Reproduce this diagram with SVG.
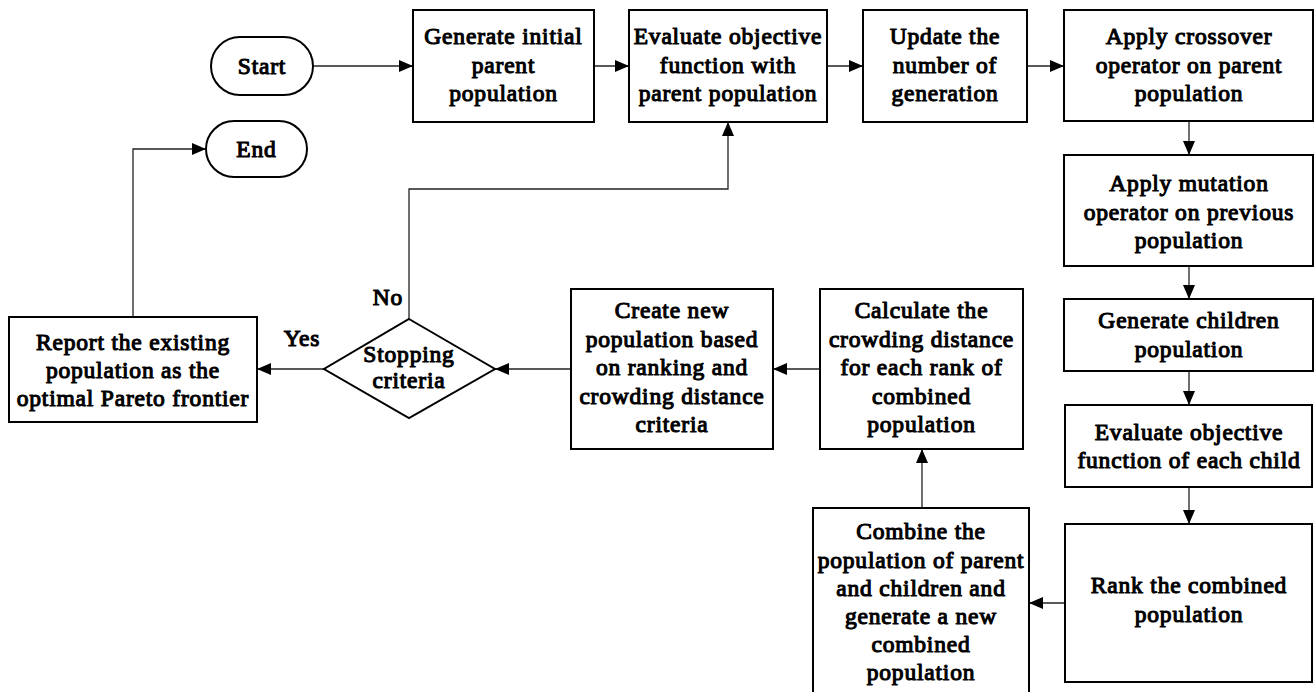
<svg xmlns="http://www.w3.org/2000/svg" width="1314" height="692" viewBox="0 0 1314 692">
<defs>
<marker id="ah" markerUnits="userSpaceOnUse" markerWidth="14" markerHeight="12" refX="14" refY="6" orient="auto">
<path d="M0,0 L14,6 L0,12 z" fill="#000"/>
</marker>
<style>
.box{fill:#fff;stroke:#000;stroke-width:2}
.t{font-family:"Liberation Serif","Times New Roman",serif;font-weight:normal;font-size:23.5px;letter-spacing:0.8px;text-anchor:middle;fill:#000;stroke:#000;stroke-width:1.1;stroke-linejoin:round}
.c{fill:none;stroke:#222;stroke-width:1.3;marker-end:url(#ah)}
</style>
</defs>
<rect width="1314" height="692" fill="#fff"/>
<g id="connectors">
<path class="c" d="M313,66 H413"/>
<path class="c" d="M594,66 H629"/>
<path class="c" d="M827,66 H863"/>
<path class="c" d="M1027,66 H1064"/>
<path class="c" d="M1189,121 V155"/>
<path class="c" d="M1189,266 V299"/>
<path class="c" d="M1189,371 V405"/>
<path class="c" d="M1189,487 V524"/>
<path class="c" d="M1065,603 H1029"/>
<path class="c" d="M922,508 V449"/>
<path class="c" d="M820,369 H773"/>
<path class="c" d="M571,369 H495"/>
<path class="c" d="M324,369 H257"/>
<path class="c" d="M409,319 V189 H728 V122"/>
<path class="c" d="M133,317 V149 H206"/>
<text class="t" x="302" y="346">Yes</text>
<text class="t" x="388" y="305">No</text>
</g>
<g id="start">
<rect class="box" x="211" y="37" width="102" height="58" rx="29"/>
<text class="t" x="262" y="74">Start</text>
</g>
<g id="end">
<rect class="box" x="206" y="121" width="101" height="56" rx="28"/>
<text class="t" x="256.5" y="157">End</text>
</g>
<g id="gen-initial">
<rect class="box" x="413" y="10" width="181" height="112"/>
<text class="t" x="503.5" y="44">Generate initial</text>
<text class="t" x="503.5" y="72.5">parent</text>
<text class="t" x="503.5" y="101">population</text>
</g>
<g id="eval-parent">
<rect class="box" x="629" y="10" width="198" height="112"/>
<text class="t" x="728" y="44">Evaluate objective</text>
<text class="t" x="728" y="72.5">function with</text>
<text class="t" x="728" y="101">parent population</text>
</g>
<g id="update">
<rect class="box" x="863" y="10" width="164" height="112"/>
<text class="t" x="945" y="44">Update the</text>
<text class="t" x="945" y="72.5">number of</text>
<text class="t" x="945" y="101">generation</text>
</g>
<g id="crossover">
<rect class="box" x="1064" y="10" width="249" height="111"/>
<text class="t" x="1189" y="44">Apply crossover</text>
<text class="t" x="1189" y="72.5">operator on parent</text>
<text class="t" x="1189" y="101">population</text>
</g>
<g id="mutation">
<rect class="box" x="1064" y="155" width="249" height="111"/>
<text class="t" x="1189" y="191">Apply mutation</text>
<text class="t" x="1189" y="219.5">operator on previous</text>
<text class="t" x="1189" y="248">population</text>
</g>
<g id="children">
<rect class="box" x="1064" y="299" width="249" height="72"/>
<text class="t" x="1189" y="328">Generate children</text>
<text class="t" x="1189" y="357">population</text>
</g>
<g id="eval-child">
<rect class="box" x="1065" y="405" width="247" height="82"/>
<text class="t" x="1189" y="440">Evaluate objective</text>
<text class="t" x="1189" y="468">function of each child</text>
</g>
<g id="rank">
<rect class="box" x="1065" y="524" width="247" height="158"/>
<text class="t" x="1189" y="593">Rank the combined</text>
<text class="t" x="1189" y="622">population</text>
</g>
<g id="combine">
<rect class="box" x="813" y="508" width="216" height="200"/>
<text class="t" x="921" y="539">Combine the</text>
<text class="t" x="921" y="567.5">population of parent</text>
<text class="t" x="921" y="596">and children and</text>
<text class="t" x="921" y="624">generate a new</text>
<text class="t" x="921" y="652">combined</text>
<text class="t" x="921" y="680">population</text>
</g>
<g id="calculate">
<rect class="box" x="820" y="289" width="203" height="160"/>
<text class="t" x="921.5" y="318">Calculate the</text>
<text class="t" x="921.5" y="346.5">crowding distance</text>
<text class="t" x="921.5" y="375">for each rank of</text>
<text class="t" x="921.5" y="403.5">combined</text>
<text class="t" x="921.5" y="432">population</text>
</g>
<g id="create-new">
<rect class="box" x="571" y="289" width="202" height="160"/>
<text class="t" x="672" y="318">Create new</text>
<text class="t" x="672" y="346.5">population based</text>
<text class="t" x="672" y="375">on ranking and</text>
<text class="t" x="672" y="403.5">crowding distance</text>
<text class="t" x="672" y="432">criteria</text>
</g>
<g id="stopping">
<polygon class="box" points="409,319 495,369 409,418 324,369"/>
<text class="t" x="409" y="362">Stopping</text>
<text class="t" x="409" y="388">criteria</text>
</g>
<g id="report">
<rect class="box" x="9" y="317" width="248" height="105"/>
<text class="t" x="133" y="350">Report the existing</text>
<text class="t" x="133" y="378">population as the</text>
<text class="t" x="133" y="405.5">optimal Pareto frontier</text>
</g>
</svg>
